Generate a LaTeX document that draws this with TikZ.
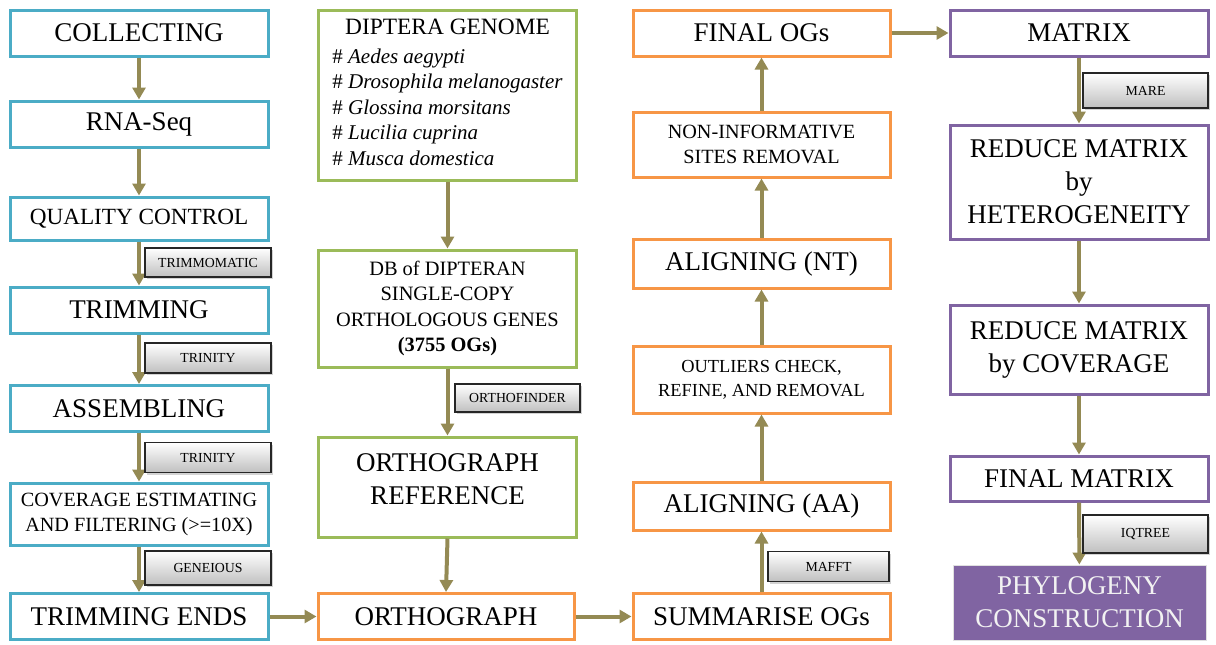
\documentclass[tikz,border=0pt]{standalone}
\usepackage{fontspec}
\setmainfont{Liberation Serif}
\usepackage{xcolor}
\usetikzlibrary{arrows.meta,shadows}

\definecolor{stepblue}{HTML}{4BACC6}
\definecolor{stepgreen}{HTML}{9BBB59}
\definecolor{steporange}{HTML}{F79646}
\definecolor{steppurple}{HTML}{8064A2}
\definecolor{arrolive}{HTML}{948A54}

\newcommand{\fbig}{\fontsize{13.5}{16.5}\selectfont}
\newcommand{\fqc}{\fontsize{11.6}{14}\selectfont}
\newcommand{\fmid}{\fontsize{10.1}{12.5}\selectfont}
\newcommand{\fsmall}{\fontsize{9.2}{12}\selectfont}
\newcommand{\fspecies}{\fontsize{10.5}{12.75}\selectfont}
\newcommand{\ftool}{\fontsize{6.9}{8}\selectfont}

\begin{document}
\begin{tikzpicture}[
      x=0.5pt, y=-0.5pt,
      box/.style={draw, line width=1.5pt, fill=white, align=center, inner sep=0pt,
        minimum width=129pt, minimum height=23pt, font=\fbig},
      bluebox/.style={box, draw=stepblue},
      greenbox/.style={box, draw=stepgreen},
      orangebox/.style={box, draw=steporange},
      purplebox/.style={box, draw=steppurple},
      tool/.style={draw=black!85, line width=0.6pt, top color=white, bottom color=black!25,
        minimum width=63pt, minimum height=15pt, inner sep=0pt, font=\ftool,
        drop shadow={shadow xshift=1pt, shadow yshift=-1pt, opacity=0.35}},
      arr/.style={-{Triangle[length=6pt, width=6.5pt]}, line width=2pt, draw=arrolive}
    ]
      \useasboundingbox (0,0) rectangle (1216,644);
      % column 1: sequencing
      \node[bluebox] (coll) at (139,33) {COLLECTING};
      \node[bluebox] (rna) at (139,124) {RNA-Seq};
      \node[bluebox, minimum height=21.5pt, font=\fqc] (qc) at (139,218.5) {QUALITY CONTROL};
      \node[bluebox] (trim) at (139,310) {TRIMMING};
      \node[bluebox] (asm) at (139,408.5) {ASSEMBLING};
      \node[bluebox, minimum height=31pt, font=\fmid] (cover) at (139,514)
        {COVERAGE ESTIMATING\\AND FILTERING (>=10X)};
      \node[bluebox] (ends) at (139,616.5) {TRIMMING ENDS};
      % column 2: reference
      \node[greenbox, minimum height=85pt, font=\fspecies] (genome) at (447.5,95) {%
        \begin{tabular}{@{}l@{}}
          \multicolumn{1}{@{}c@{}}{\fontsize{11.7}{12.75}\selectfont DIPTERA GENOME}\\[1.5pt]
          \# \textit{Aedes aegypti}\\
          \# \textit{Drosophila melanogaster}\\
          \# \textit{Glossina morsitans}\\
          \# \textit{Lucilia cuprina}\\
          \# \textit{Musca domestica}
        \end{tabular}};
      \node[greenbox, minimum height=58.5pt, font=\fontsize{10.2}{12.7}\selectfont] (db) at (447.5,308.5)
        {DB of DIPTERAN\\SINGLE-COPY\\ORTHOLOGOUS GENES\\\textbf{(3755 OGs)}};
      \node[greenbox, minimum height=50pt, text depth=8pt] (ref) at (447.5,487) {ORTHOGRAPH\\REFERENCE};
      \node[orangebox, minimum width=128pt] (og) at (446,616.5) {ORTHOGRAPH};
      % column 3: alignment
      \node[orangebox, minimum width=128.5pt] (summ) at (761.5,616.5) {SUMMARISE OGs};
      \node[orangebox, minimum width=128.5pt, minimum height=24pt] (aa) at (761.5,506) {ALIGNING (AA)};
      \node[orangebox, minimum width=128.5pt, minimum height=33.5pt, font=\fsmall] (outl) at (761.5,379.5)
        {OUTLIERS CHECK,\\REFINE, AND REMOVAL};
      \node[orangebox, minimum width=128.5pt, minimum height=24.5pt] (nt) at (761.5,263.5) {ALIGNING (NT)};
      \node[orangebox, minimum width=128.5pt, minimum height=32.5pt, font=\fmid] (noninf) at (761.5,144.5)
        {NON-INFORMATIVE\\SITES REMOVAL};
      \node[orangebox, minimum width=128.5pt] (final) at (761.5,33) {FINAL OGs};
      % column 4: matrix
      \node[purplebox] (matrix) at (1079,33) {MATRIX};
      \node[purplebox, minimum height=57pt] (het) at (1079,182) {REDUCE MATRIX\\by\\HETEROGENEITY};
      \node[purplebox, minimum height=44.5pt] (mcov) at (1079,349.5) {REDUCE MATRIX\\by COVERAGE};
      \node[purplebox, minimum height=22.5pt] (fmat) at (1079,478.5) {FINAL MATRIX};
      \node[box, draw=black!12, line width=0.5pt, fill=steppurple, text=white!95!black,
        minimum width=126.5pt, minimum height=37.5pt] (phylo) at (1079.5,602.5)
        {PHYLOGENY\\CONSTRUCTION};
      % connectors
      \draw[arr] (coll) -- (rna);
      \draw[arr] (rna) -- (qc);
      \draw[arr] (qc) -- (trim);
      \draw[arr] (trim) -- (asm);
      \draw[arr] (asm) -- (cover);
      \draw[arr] (cover) -- (ends);
      \draw[arr] (genome) -- (db);
      \draw[arr] (db) -- (ref);
      \draw[arr] (ref.south) -- (og.north);
      \draw[arr] (ends) -- (og);
      \draw[arr] (og) -- (summ);
      \draw[arr] (summ) -- (aa);
      \draw[arr] (aa) -- (outl);
      \draw[arr] (outl) -- (nt);
      \draw[arr] (nt) -- (noninf);
      \draw[arr] (noninf) -- (final);
      \draw[arr] (final) -- (matrix);
      \draw[arr] (matrix) -- (het);
      \draw[arr] (het) -- (mcov);
      \draw[arr] (mcov) -- (fmat);
      \draw[arr] (fmat) -- (phylo);
      % tool labels
      \node[tool, minimum height=14.5pt] (trimmo) at (208,262.5) {TRIMMOMATIC};
      \node[tool] (trin1) at (208,358) {TRINITY};
      \node[tool] (trin2) at (208,457.5) {TRINITY};
      \node[tool, minimum height=17pt] (genei) at (208,568) {GENEIOUS};
      \node[tool, minimum width=62.5pt, minimum height=14pt] (ofind) at (517.5,398) {ORTHOFINDER};
      \node[tool, minimum width=60.5pt] (mafft) at (828.5,566.5) {MAFFT};
      \node[tool, minimum width=62.5pt, minimum height=17.5pt] (mare) at (1145.5,90.5) {MARE};
      \node[tool, minimum width=62.5pt, minimum height=19pt] (iqtree) at (1145.5,534) {IQTREE};
    \end{tikzpicture}
\end{document}
